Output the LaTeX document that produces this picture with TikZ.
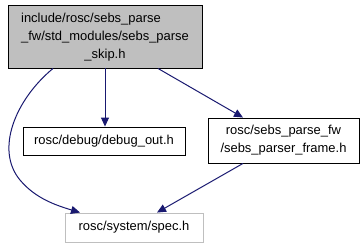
\documentclass[tikz,border=0pt]{standalone}
\usepackage{fontspec}
\setmainfont{Liberation Sans}
\usetikzlibrary{arrows.meta}
\definecolor{edgeblue}{HTML}{191970}
\definecolor{boxgray}{HTML}{BFBFBF}
\tikzset{
  filebox/.style={draw=black, line width=0.9bp, fill=white, inner sep=0pt,
    font=\fontsize{13}{18}\selectfont, align=center},
  mainbox/.style={filebox, fill=boxgray},
  extbox/.style={filebox, draw=boxgray},
  dep/.style={draw=edgeblue, line width=1bp,
    -{Triangle[length=9bp,width=8bp]}}
}
\begin{document}
\begin{tikzpicture}[x=1bp,y=-1bp]
  \useasboundingbox (0,0) rectangle (361,248);

  % included-by root file
  \node[mainbox, minimum width=194bp, minimum height=63bp] (top) at (105,36.5)
    {\begin{tabular}{@{}l@{}}include/rosc/sebs\_parse\\
     \_fw/std\_modules/sebs\_parse\\
     \multicolumn{1}{@{}c@{}}{\_skip.h}\end{tabular}};

  % direct includes
  \node[filebox, minimum width=162bp, minimum height=28bp] (debug) at (104,141)
    {rosc/debug/debug\_out.h};
  \node[filebox, minimum width=151bp, minimum height=45bp] (frame) at (283.5,140.5)
    {rosc/sebs\_parse\_fw\\/sebs\_parser\_frame.h};

  % system header (no documentation)
  \node[extbox, minimum width=138bp, minimum height=29bp] (spec) at (134,227.5)
    {rosc/system/spec.h};

  % dependency edges
  \draw[dep] (top.south) -- (top.south |- debug.north);
  \draw[dep] ([xshift=53bp]top.south) -- ([xshift=-40.5bp]frame.north);
  \draw[dep] ([xshift=-52bp]top.south)
    .. controls (15,100) and (-5,150) .. (20,180)
    .. controls (35,198) and (55,205) .. ([xshift=-54bp]spec.north);
  \draw[dep] ([xshift=-40.5bp]frame.south) -- ([xshift=23bp]spec.north);
\end{tikzpicture}
\end{document}
